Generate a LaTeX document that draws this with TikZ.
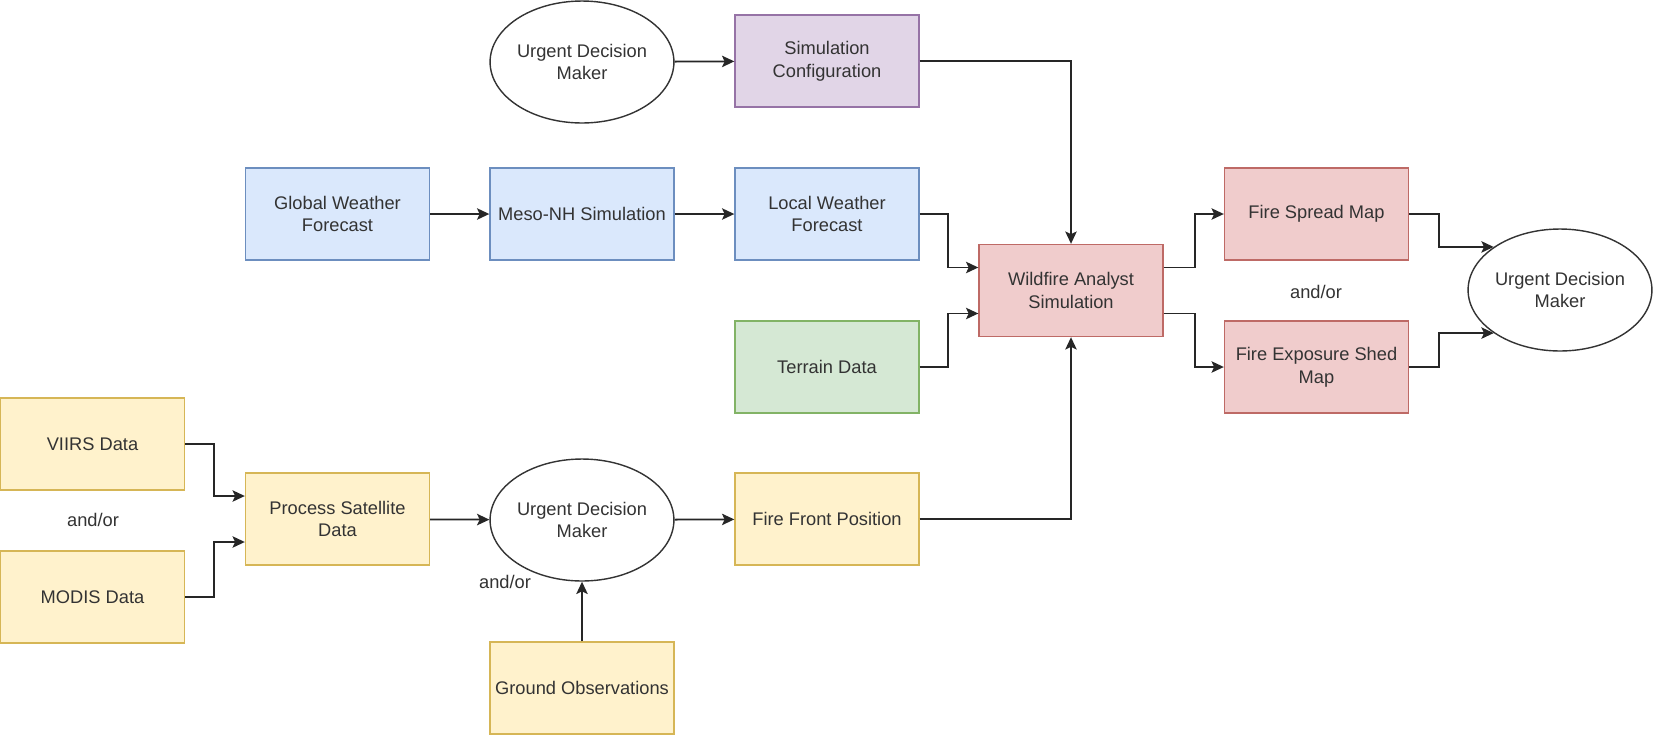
\documentclass[tikz,border=0pt]{standalone}
\usepackage{fontspec}
\setmainfont{Liberation Sans}
\usetikzlibrary{arrows.meta,shapes.geometric}

\definecolor{bluefill}{HTML}{DAE8FC}
\definecolor{bluedraw}{HTML}{6C8EBF}
\definecolor{purplefill}{HTML}{E1D5E7}
\definecolor{purpledraw}{HTML}{9673A6}
\definecolor{greenfill}{HTML}{D5E8D4}
\definecolor{greendraw}{HTML}{82B366}
\definecolor{redfill}{HTML}{F0CCCC}
\definecolor{reddraw}{HTML}{BE6A66}
\definecolor{yellowfill}{HTML}{FFF2CC}
\definecolor{yellowdraw}{HTML}{D6B656}
\definecolor{textgray}{HTML}{333333}

\tikzset{
  box/.style={rectangle, line width=0.8pt, minimum width=3.68cm, minimum height=1.84cm,
    inner sep=2pt, align=center, text=textgray, font=\fontsize{10.4}{13}\selectfont},
  bluebox/.style={box, fill=bluefill, draw=bluedraw},
  purplebox/.style={box, fill=purplefill, draw=purpledraw},
  greenbox/.style={box, fill=greenfill, draw=greendraw},
  redbox/.style={box, fill=redfill, draw=reddraw},
  yellowbox/.style={box, fill=yellowfill, draw=yellowdraw},
  person/.style={ellipse, draw=black!80, line width=0.8pt, fill=white, inner sep=0pt,
    minimum width=3.64cm, minimum height=2.44cm, align=center, text=textgray,
    font=\fontsize{10.4}{13}\selectfont},
  andor/.style={text=textgray, font=\fontsize{10.4}{13}\selectfont},
  flow/.style={draw=black!85, line width=1pt, -{Stealth[length=7pt,width=6.5pt,inset=1.5pt]}}
}

\begin{document}
\begin{tikzpicture}[x=0.02cm, y=-0.02cm]
  \useasboundingbox (0,0) rectangle (1654,735);

  % top row
  \node[person] (udmtop) at (582,62) {Urgent Decision\\Maker};
  \node[purplebox] (simcfg) at (827,61) {Simulation\\Configuration};

  % weather chain
  \node[bluebox] (gwf) at (337.5,214) {Global Weather\\Forecast};
  \node[bluebox] (meso) at (582,214) {Meso-NH Simulation};
  \node[bluebox] (lwf) at (827,214) {Local Weather\\Forecast};
  \node[greenbox] (terrain) at (827,367) {Terrain Data};

  % simulation and outputs
  \node[redbox] (was) at (1071,290.5) {Wildfire Analyst\\Simulation};
  \node[redbox] (fsm) at (1316.5,214) {Fire Spread Map};
  \node[redbox] (fesm) at (1316.5,367) {Fire Exposure Shed\\Map};
  \node[person] (udmright) at (1560,290) {Urgent Decision\\Maker};
  \node[andor] (andor1) at (1316,292) {and/or};

  % satellite chain
  \node[yellowbox] (viirs) at (92.5,444) {VIIRS Data};
  \node[yellowbox] (modis) at (92.5,597) {MODIS Data};
  \node[andor] (andor2) at (93,520) {and/or};
  \node[yellowbox] (psd) at (337.5,519) {Process Satellite\\Data};
  \node[person] (udmlow) at (582,520) {Urgent Decision\\Maker};
  \node[andor] (andor3) at (505,582) {and/or};
  \node[yellowbox] (gobs) at (582,688) {Ground Observations};
  \node[yellowbox] (ffp) at (827,519) {Fire Front Position};

  % connectors
  \draw[flow] (udmtop) -- (simcfg);
  \draw[flow] (gwf) -- (meso);
  \draw[flow] (meso) -- (lwf);
  \draw[flow] (simcfg.east) -| (was.north);
  \draw[flow] (lwf.east) -- ++(28,0) |- ([yshift=0.46cm]was.west);
  \draw[flow] (terrain.east) -- ++(28,0) |- ([yshift=-0.46cm]was.west);
  \draw[flow] ([yshift=0.46cm]was.east) -- ++(31,0) |- (fsm.west);
  \draw[flow] ([yshift=-0.46cm]was.east) -- ++(31,0) |- (fesm.west);
  \draw[flow] (fsm.east) -- ++(30,0) |- (udmright.147);
  \draw[flow] (fesm.east) -- ++(30,0) |- (udmright.213);
  \draw[flow] (viirs.east) -- ++(29,0) |- ([yshift=0.46cm]psd.west);
  \draw[flow] (modis.east) -- ++(29,0) |- ([yshift=-0.46cm]psd.west);
  \draw[flow] (psd) -- (udmlow);
  \draw[flow] (gobs) -- (udmlow);
  \draw[flow] (udmlow) -- (ffp);
  \draw[flow] (ffp.east) -| (was.south);
\end{tikzpicture}
\end{document}
